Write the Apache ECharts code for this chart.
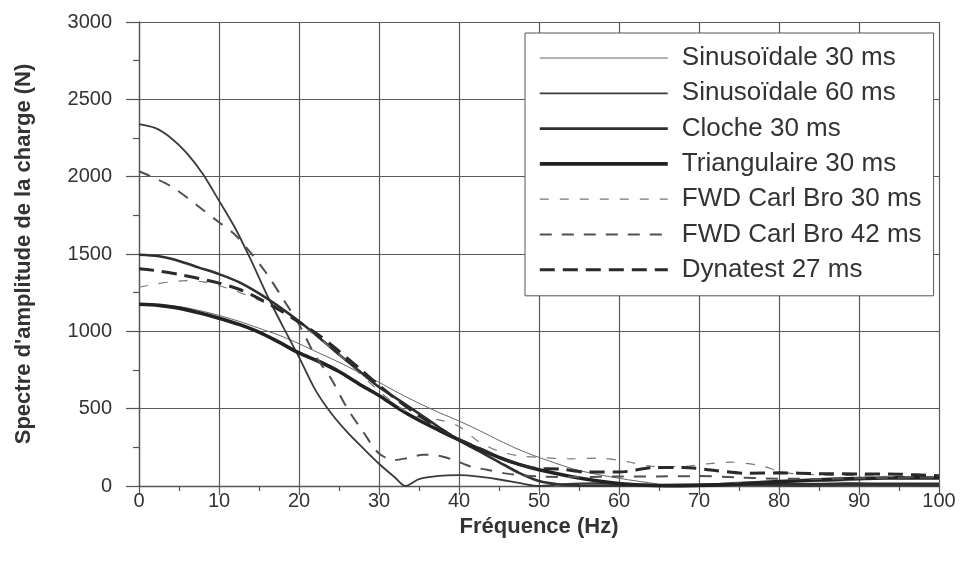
<!DOCTYPE html>
<html><head><meta charset="utf-8">
<script src="https://cdn.jsdelivr.net/npm/echarts@6/dist/echarts.min.js"></script>
<style>html,body{margin:0;padding:0;background:#fff}#c{width:961px;height:562px}</style>
</head><body><div id="c"></div>
<script>
const xTicks = [0,10,20,30,40,50,60,70,80,90,100];
const yTicks = [0,500,1000,1500,2000,2500,3000];
const names = ['Sinusoïdale 30 ms','Sinusoïdale 60 ms','Cloche 30 ms','Triangulaire 30 ms','FWD Carl Bro 30 ms','FWD Carl Bro 42 ms','Dynatest 27 ms'];

const sin30 = [[0,1175],[2.5,1172],[5,1160],[7.5,1135],[10,1103],[12.5,1065],[15,1020],[17.5,975],[20,920],[22.5,860],[25,800],[27.5,735],[30,670],[32.5,600],[35,535],[37.5,475],[40,420],[42.5,360],[45,295],[47.5,235],[50,185],[52.5,140],[55,100],[60,50],[65,12],[67,2],[70,8],[75,25],[80,33],[85,30],[90,20],[95,8],[100,0]];
const sin60 = [[0,2340],[2,2315],[4,2250],[6,2150],[8,2015],[10,1845],[12,1670],[14,1460],[16,1235],[18,1030],[20,833],[22,625],[24,472],[26,350],[28,245],[30,144],[32,55],[33.3,0],[35,45],[37.5,66],[40,70],[42.5,60],[45,42],[47.5,20],[50,0],[53,12],[57,19],[61,14],[66.7,0],[71,7],[75,8],[79,5],[83.3,0],[88,4],[92,4],[96,2],[100,0]];
const cloche = [[0,1495],[2.5,1485],[5,1455],[7.5,1412],[10,1370],[12.5,1318],[15,1245],[17.5,1160],[20,1065],[22.5,960],[25,850],[27.5,745],[30,640],[32.5,555],[35,468],[37.5,380],[40,295],[42.5,225],[45,155],[47.5,85],[50,32],[52.5,10],[55,4],[60,3],[65,6],[70,9],[80,12],[90,14],[100,14]];
const tri = [[0,1175],[2.5,1168],[5,1150],[7.5,1120],[10,1085],[12.5,1045],[15,995],[17.5,930],[20,860],[22.5,805],[25,740],[27.5,660],[30,585],[32.5,500],[35,425],[37.5,360],[40,298],[42.5,240],[45,185],[47.5,140],[50,105],[55,52],[60,16],[65,2],[67,0],[70,3],[75,13],[80,28],[85,40],[90,48],[95,53],[100,52]];
const fwd30 = [[0,1285],[2,1305],[4,1320],[6,1328],[8,1320],[10,1295],[12,1262],[14,1222],[16,1178],[18,1120],[20,1050],[22.5,955],[25,850],[27.5,730],[30,615],[32.5,510],[35,445],[37.5,428],[40,385],[42.5,285],[45,225],[47.5,195],[50,185],[54,176],[57.5,180],[61,157],[64,128],[67.5,125],[71,143],[74,154],[77.5,133],[81,85],[85,72],[90,66],[95,60],[100,55]];
const fwd42 = [[0,2035],[2,1990],[4,1938],[6,1865],[8,1785],[10,1705],[12,1625],[14,1505],[16,1370],[18,1210],[20,1045],[22,845],[24,695],[26,505],[28,352],[30,210],[32,168],[33.5,180],[35.5,202],[37.5,196],[39.5,165],[41.5,125],[43.5,105],[46,80],[50,62],[55,58],[60,62],[65,62],[70,64],[75,55],[80,47],[85,46],[90,50],[95,54],[100,56]];
const dyn = [[0,1405],[2.5,1390],[5,1368],[7.5,1342],[10,1312],[12.5,1272],[15,1212],[17.5,1140],[20,1060],[22.5,975],[25,872],[27.5,762],[30,650],[32.5,548],[35,455],[37.5,372],[40,300],[42.5,245],[45,185],[47.5,140],[50,112],[52.5,110],[56,90],[60,90],[64.5,120],[68,120],[72,100],[76,82],[80,85],[85,80],[90,78],[95,76],[100,66]];

const dataSets = [sin30, sin60, cloche, tri, fwd30, fwd42, dyn];
const styles = [
  {color:'#666666', width:1, type:'solid'},
  {color:'#3a3a3a', width:1.8, type:'solid'},
  {color:'#303030', width:2.6, type:'solid'},
  {color:'#222222', width:3.6, type:'solid'},
  {color:'#777777', width:1.2, type:[9,11]},
  {color:'#505050', width:2, type:[12,10]},
  {color:'#2a2a2a', width:3, type:[15,8]}
];
const FONT = 'Liberation Sans, Arial, sans-serif';
const chart = echarts.init(document.getElementById('c'), null, {renderer:'canvas'});
chart.setOption({
  animation:false,
  backgroundColor:'#fff',
  grid:{left:139, right:22, top:22, bottom:76},
  legend:{
    orient:'vertical', left:525, top:33,
    data:names.map((n,i)=>({name:n, lineStyle:{width:styles[i].width, type:styles[i].type, color:styles[i].color}})),
    backgroundColor:'#fff', borderColor:'#555', borderWidth:1,
    padding:[12,12,13,13],
    itemWidth:128, itemHeight:26, itemGap:9.3,
    itemStyle:{opacity:0},
    textStyle:{fontFamily:FONT, fontSize:26, color:'#333', padding:[0,0,0,9]}
  },
  xAxis:{
    type:'value', min:xTicks[0], max:xTicks[xTicks.length-1], interval:10,
    name:'Fréquence (Hz)', nameLocation:'middle', nameGap:27,
    nameTextStyle:{fontFamily:FONT, fontSize:22, fontWeight:'bold', color:'#333'},
    axisLine:{lineStyle:{color:'#555', width:1.3}},
    axisTick:{show:true, length:9, lineStyle:{color:'#555', width:1.2}},
    minorTick:{show:true, splitNumber:2, length:5, lineStyle:{color:'#555', width:1.2}},
    axisLabel:{fontFamily:FONT, fontSize:20, color:'#333', margin:5},
    splitLine:{show:true, lineStyle:{color:'#5a5a5a', width:1.2}}
  },
  yAxis:{
    type:'value', min:yTicks[0], max:yTicks[yTicks.length-1], interval:500,
    name:"Spectre d'amplitude de la charge (N)", nameLocation:'middle', nameGap:104,
    nameTextStyle:{fontFamily:FONT, fontSize:22, fontWeight:'bold', color:'#333'},
    axisLine:{show:true, lineStyle:{color:'#555', width:1.3}},
    axisTick:{show:true, length:13, lineStyle:{color:'#555', width:1.2}},
    minorTick:{show:true, splitNumber:2, length:6, lineStyle:{color:'#555', width:1.2}},
    axisLabel:{fontFamily:FONT, fontSize:20, color:'#333', margin:27, formatter:v=>String(v)},
    splitLine:{show:true, lineStyle:{color:'#5a5a5a', width:1.2}}
  },
  series: dataSets.map((d,i)=>({
    name:names[i], type:'line', data:d, symbol:'none', smooth:0.3,
    clip:true,
    lineStyle:{color:styles[i].color, width:styles[i].width, type:styles[i].type},
    itemStyle:{color:styles[i].color}
  }))
});
</script></body></html>
